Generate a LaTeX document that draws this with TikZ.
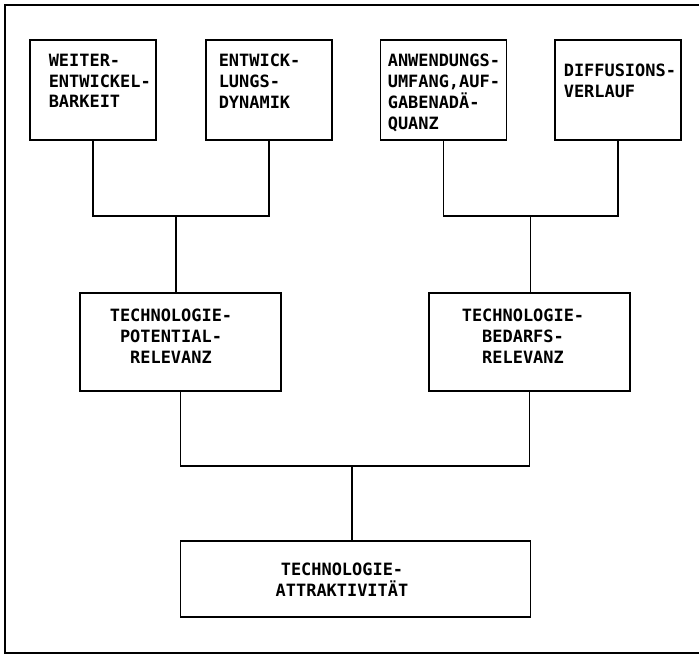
\documentclass[tikz,border=0pt]{standalone}
\usepackage{fontspec}
\newfontfamily\plotfont{DejaVu Sans Mono}
\begin{document}
\begin{tikzpicture}[x=1bp, y=-1bp, line width=1.6bp,
        box/.style={draw, inner sep=0pt},
        topbox/.style={box, minimum width=126bp, minimum height=100bp},
        midbox/.style={box, minimum width=201bp, minimum height=98bp},
        txt/.style={inner sep=0pt, font=\plotfont\bfseries\fontsize{17}{21}\selectfont}]
        \useasboundingbox (0,0) rectangle (699,655);
        \draw [line width=1.2bp] (699,5) -- (5,5) -- (5,653) -- (699,653);
        % obere Reihe
        \node [topbox] (weiter) at (93,90) {};
        \node [topbox] (dynamik) at (269,90) {};
        \node [topbox] (umfang) at (443.5,90) {};
        \node [topbox] (diffusion) at (618,90) {};
        \node [txt, align=left, anchor=north west] (weitertxt) at (48,53) {WEITER-\\ENTWICKEL-\\BARKEIT};
        \node [txt, align=left, anchor=north west] (dynamiktxt) at (218,53) {ENTWICK-\\LUNGS-\\DYNAMIK};
        \node [txt, align=left, anchor=north west] (umfangtxt) at (387,53) {ANWENDUNGS-\\UMFANG,AUF-\\GABENADÄ-\\QUANZ};
        \node [txt, align=left, anchor=north west] (diffusiontxt) at (563,63) {DIFFUSIONS-\\VERLAUF};
        % mittlere Reihe
        \node [midbox] (potential) at (180.5,342) {};
        \node [midbox] (bedarf) at (529.5,342) {};
        \node [txt, align=center] (potentialtxt) at (171,336) {TECHNOLOGIE-\\POTENTIAL-\\RELEVANZ};
        \node [txt, align=center] (bedarftxt) at (523,336) {TECHNOLOGIE-\\BEDARFS-\\RELEVANZ};
        % unten
        \node [box, minimum width=350bp, minimum height=76bp] (attraktiv) at (355.5,579) {};
        \node [txt, align=center] (attraktivtxt) at (342,580) {TECHNOLOGIE-\\ATTRAKTIVITÄT};
        \coordinate (j1) at (176,216);
        \coordinate (j2) at (530.5,216);
        \coordinate (j3) at (352,466);
        \draw (weiter.south) |- (j1) -| (dynamik.south);
        \draw (j1) -- (j1 |- potential.north);
        \draw (umfang.south) |- (j2) -| (diffusion.south);
        \draw (j2) -- (j2 |- bedarf.north);
        \draw (potential.south) |- (j3) -| (bedarf.south);
        \draw (j3) -- (j3 |- attraktiv.north);
    \end{tikzpicture}
\end{document}
